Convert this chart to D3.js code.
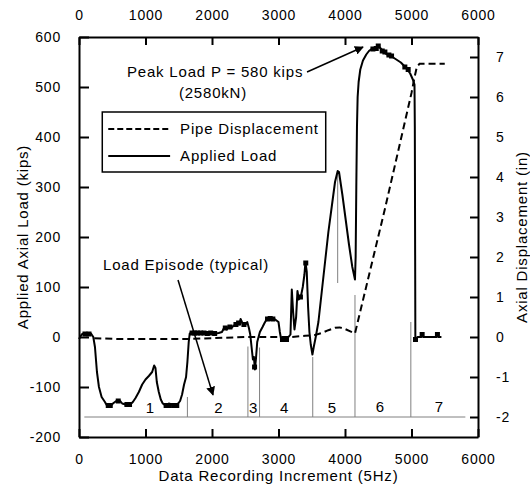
<!DOCTYPE html>
<html><head><meta charset="utf-8">
<script src="https://cdn.jsdelivr.net/npm/d3@7"></script>
<style>
body{margin:0;background:#fff}
text{font-family:"Liberation Sans",Arial,Helvetica,sans-serif;fill:#000}
</style>
</head><body>
<svg id="chart" width="530" height="488"></svg>
<script>
// ---------- data ----------
const xTicks = [0, 1000, 2000, 3000, 4000, 5000, 6000];
const loadTicks = [-200, -100, 0, 100, 200, 300, 400, 500, 600];
const dispTicks = [-2, -1, 0, 1, 2, 3, 4, 5, 6, 7];

// Applied load (kips) vs data increment
const loadX = [0, 40, 70, 180, 215, 240, 270, 300, 340, 390, 420, 480, 510, 560, 620, 650, 700, 770, 810, 850, 900, 950, 1000, 1050, 1100, 1130, 1150, 1170, 1200, 1230, 1260, 1300, 1350, 1400, 1450, 1490, 1520, 1550, 1580, 1610, 1630, 1650, 1665, 1700, 1800, 1900, 2000, 2100, 2150, 2180, 2220, 2250, 2290, 2320, 2350, 2380, 2410, 2430, 2460, 2500, 2530, 2555, 2575, 2595, 2615, 2630, 2645, 2660, 2680, 2700, 2720, 2760, 2790, 2820, 2880, 2950, 3000, 3020, 3040, 3100, 3150, 3180, 3200, 3220, 3240, 3265, 3285, 3305, 3335, 3365, 3390, 3405, 3425, 3445, 3465, 3485, 3510, 3530, 3560, 3600, 3650, 3700, 3750, 3800, 3850, 3890, 3910, 3960, 4010, 4060, 4110, 4150, 4160, 4170, 4180, 4190, 4205, 4230, 4270, 4320, 4360, 4400, 4450, 4500, 4530, 4570, 4620, 4690, 4760, 4840, 4920, 4980, 5020, 5045, 5050, 5058, 5070, 5090, 5150, 5160, 5175, 5380, 5390, 5405, 5450];
const loadY = [-4, 5, 7, 7, 0, -20, -70, -100, -120, -130, -137, -137, -133, -128, -128, -133, -135, -135, -130, -122, -110, -95, -85, -78, -70, -57, -62, -90, -110, -125, -133, -137, -133, -135, -137, -133, -128, -115, -95, -80, -50, -10, 7, 8, 7, 8, 6, 8, 10, 18, 15, 20, 18, 22, 25, 28, 25, 36, 27, 24, 30, 18, 5, -20, -45, -40, -65, -45, -10, 0, 10, 20, 28, 35, 38, 35, 30, 10, -5, -5, 0, 5, 95, 50, 15, 40, 92, 75, 80, 100, 125, 150, 130, 60, 10, -15, -35, -20, 0, 30, 90, 150, 210, 260, 310, 332, 330, 285, 235, 185, 140, 115, 160, 300, 420, 480, 510, 535, 553, 565, 572, 576, 576, 582, 578, 572, 566, 562, 556, 549, 538, 527, 515, 505, 420, 0, -8, 0, 0, 6, 0, 0, 6, 0, 0];

// square markers on the load trace
const markX = [90, 150, 440, 470, 590, 720, 760, 1310, 1360, 1430, 1470, 1700, 1740, 1780, 1830, 1880, 1930, 1980, 2040, 2200, 2270, 2360, 2400, 2480, 2640, 2835, 2875, 2915, 3060, 3120, 3330, 3410, 4420, 4470, 4500, 4560, 4600, 4660, 4700, 4900, 4950, 5060, 5160, 5390];
const markY = [6, 6, -137, -137, -128, -135, -135, -137, -137, -137, -137, 8, 8, 8, 8, 8, 7, 8, 7, 18, 20, 25, 28, 25, -60, 36, 37, 36, -5, -5, 80, 148, 576, 577, 582, 572, 570, 564, 562, 540, 535, -5, 5, 5];

// Pipe displacement (in) vs data increment
const dispX = [230, 600, 1000, 1650, 2000, 2500, 3000, 3200, 3400, 3550, 3650, 3750, 3850, 3920, 4000, 4080, 4150, 4600, 5000, 5040, 5080, 5120, 5200, 5500];
const dispY = [-0.03, -0.05, -0.05, -0.05, -0.03, 0, 0, 0, 0.03, 0.05, 0.1, 0.17, 0.23, 0.24, 0.2, 0.14, 0.09, 3.2, 6.1, 6.45, 6.75, 6.83, 6.83, 6.83];

// load episode dividers (x, top in kips) and labels
const dividerX = [1630, 2540, 2715, 3515, 4150, 4990];
const dividerTop = [-120, -19, -21, -40, 84, 30];
const peakGuideX = [3890];
const peakGuideRange = [108, 330];
const episodeBase = -160;
const episodeBaseRange = [80, 5810];
const episodeNames = ["1", "2", "3", "4", "5", "6", "7"];
const episodeX = [1073, 2103, 2625, 3093, 3808, 4530, 5420];
const episodeLabelY = [-152, -152, -152, -152, -152, -150, -150];

// legend / annotation texts
const legendNames = ["Pipe Displacement", "Applied Load"];

// ---------- chart ----------
const svg = d3.select("#chart");
const L = 79, R = 478, T = 37, B = 437;
const x = d3.scaleLinear().domain([0, 6000]).range([L, R]);
const yL = d3.scaleLinear().domain([-200, 600]).range([B, T]);
const yR = d3.scaleLinear().domain([-2.5, 7.5]).range([B, T]);

const font = "Liberation Sans, Arial, sans-serif";
const ls = "0.8px";
const fmt = d => String(d); // plain hyphen-minus like the reference

// gray episode guides
const g0 = svg.append("g").attr("stroke", "#808080").attr("stroke-width", 1);
g0.append("line")
  .attr("x1", x(episodeBaseRange[0])).attr("x2", x(episodeBaseRange[1]))
  .attr("y1", yL(episodeBase)).attr("y2", yL(episodeBase));
g0.selectAll(".div").data(dividerX).join("line")
  .attr("x1", d => x(d)).attr("x2", d => x(d))
  .attr("y1", yL(episodeBase)).attr("y2", (d, i) => yL(dividerTop[i]));
g0.selectAll(".pk").data(peakGuideX).join("line")
  .attr("x1", d => x(d)).attr("x2", d => x(d))
  .attr("y1", yL(peakGuideRange[0])).attr("y2", yL(peakGuideRange[1]));

svg.append("g").selectAll("text").data(episodeNames).join("text")
  .attr("x", (d, i) => x(episodeX[i]))
  .attr("y", (d, i) => yL(episodeLabelY[i]))
  .attr("text-anchor", "middle")
  .attr("font-size", 15).style("letter-spacing", ls)
  .text(d => d);

// displacement dashed line
const dispData = dispX.map((d, i) => [d, dispY[i]]);
svg.append("path").datum(dispData)
  .attr("fill", "none").attr("stroke", "#000").attr("stroke-width", 2)
  .attr("stroke-dasharray", "7,4")
  .attr("d", d3.line().x(d => x(d[0])).y(d => yR(d[1])));

// load solid line
const loadData = loadX.map((d, i) => [d, loadY[i]]);
svg.append("path").datum(loadData)
  .attr("fill", "none").attr("stroke", "#000").attr("stroke-width", 2)
  .attr("stroke-linejoin", "round")
  .attr("d", d3.line().x(d => x(d[0])).y(d => yL(d[1])));

svg.append("g").selectAll("rect").data(markX).join("rect")
  .attr("x", (d) => x(d) - 2.5)
  .attr("y", (d, i) => yL(markY[i]) - 2.5)
  .attr("width", 5).attr("height", 5).attr("fill", "#000");

// axes
function styleAxis(g) {
  g.selectAll("path").attr("stroke", "#000").attr("stroke-width", 2);
  g.selectAll("line").attr("stroke", "#000").attr("stroke-width", 2);
  g.selectAll("text").attr("font-family", font).attr("font-size", 14).style("letter-spacing", ls).attr("fill", "#000");
}
const gb = svg.append("g").attr("transform", `translate(0,${B})`)
  .call(d3.axisBottom(x).tickValues(xTicks).tickSize(-8).tickSizeOuter(0).tickPadding(17).tickFormat(fmt));
styleAxis(gb);
const gt = svg.append("g").attr("transform", `translate(0,${T})`)
  .call(d3.axisTop(x).tickValues(xTicks).tickSize(-8).tickSizeOuter(0).tickPadding(17).tickFormat(fmt));
styleAxis(gt);
const gl = svg.append("g").attr("transform", `translate(${L},0)`)
  .call(d3.axisLeft(yL).tickValues(loadTicks).tickSize(-10).tickSizeOuter(0).tickPadding(18).tickFormat(fmt));
styleAxis(gl);
const gr = svg.append("g").attr("transform", `translate(${R},0)`)
  .call(d3.axisRight(yR).tickValues(dispTicks).tickSize(-8).tickSizeOuter(0).tickPadding(18).tickFormat(fmt));
styleAxis(gr);
gb.selectAll(".tick text").attr("dy", "0.71em");

// axis titles
svg.append("text").attr("x", (L + R) / 2).attr("y", 481).attr("text-anchor", "middle")
  .attr("font-size", 15).style("letter-spacing", ls).text("Data Recording Increment (5Hz)");
svg.append("text").attr("transform", `translate(28,${(T + B) / 2}) rotate(-90)`).attr("text-anchor", "middle")
  .attr("font-size", 15).style("letter-spacing", ls).text("Applied Axial Load (kips)");
svg.append("text").attr("transform", `translate(527,${(T + B) / 2}) rotate(-90)`).attr("text-anchor", "middle")
  .attr("font-size", 15).style("letter-spacing", ls).text("Axial Displacement (in)");

// legend
const lg = svg.append("g");
lg.append("rect").attr("x", x(350)).attr("y", yL(450)).attr("width", x(3710) - x(350)).attr("height", yL(330) - yL(450))
  .attr("fill", "#fff").attr("stroke", "#000").attr("stroke-width", 1.5);
const legY = [416, 362];
legendNames.forEach((n, i) => {
  lg.append("line").attr("x1", x(440)).attr("x2", x(1370)).attr("y1", yL(legY[i])).attr("y2", yL(legY[i]))
    .attr("stroke", "#000").attr("stroke-width", 2).attr("stroke-dasharray", i === 0 ? "6,3" : null);
  lg.append("text").attr("x", x(1520)).attr("y", yL(legY[i])).attr("dy", "0.35em")
    .attr("font-size", 15).style("letter-spacing", ls).text(n);
});

// annotations
svg.append("defs").append("marker").attr("id", "ah").attr("viewBox", "0 0 10 10")
  .attr("refX", 9).attr("refY", 5).attr("markerWidth", 9).attr("markerHeight", 9)
  .attr("markerUnits", "userSpaceOnUse").attr("orient", "auto")
  .append("path").attr("d", "M0,0 L10,5 L0,10 z").attr("fill", "#000");

svg.append("text").attr("x", x(722)).attr("y", yL(520)).attr("font-size", 15).style("letter-spacing", ls)
  .text("Peak Load P = 580 kips");
svg.append("text").attr("x", x(2015)).attr("y", yL(478)).attr("text-anchor", "middle").attr("font-size", 15).style("letter-spacing", ls)
  .text("(2580kN)");
svg.append("line").attr("x1", x(3429)).attr("y1", yL(530)).attr("x2", x(4271)).attr("y2", yL(580))
  .attr("stroke", "#000").attr("stroke-width", 1.5).attr("marker-end", "url(#ah)");

svg.append("text").attr("x", x(361)).attr("y", yL(134)).attr("font-size", 15).style("letter-spacing", ls)
  .text("Load Episode (typical)");
svg.append("line").attr("x1", x(1489)).attr("y1", yL(114)).attr("x2", x(2015)).attr("y2", yL(-116))
  .attr("stroke", "#000").attr("stroke-width", 1.5).attr("marker-end", "url(#ah)");
</script>
</body></html>
